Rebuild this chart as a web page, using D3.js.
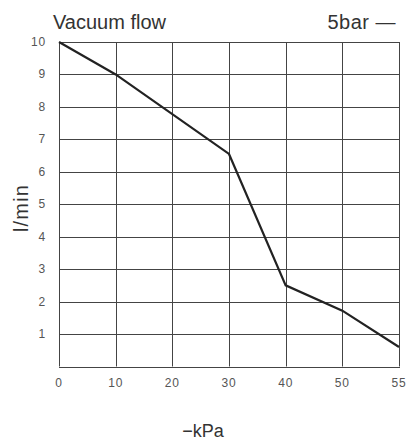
<!DOCTYPE html>
<html>
<head>
<meta charset="utf-8">
<script src="https://cdn.jsdelivr.net/npm/d3@7/dist/d3.min.js"></script>
<style>
  body { margin: 0; background: #fff; }
  text { font-family: "Liberation Sans", Arial, sans-serif; }
</style>
</head>
<body>
<div id="container"></div>
<script>
const xTicks = [0, 10, 20, 30, 40, 50, 55];
const yTicks = [1, 2, 3, 4, 5, 6, 7, 8, 9, 10];
const kPa    = [0, 10, 30, 40, 50, 55];
const flow   = [10, 9, 6.55, 2.5, 1.72, 0.6];

const width  = 409;
const height = 441;
const margin = { top: 42, right: 10, bottom: 74, left: 59 };
const plotW  = 340;

const svg = d3.select("#container")
  .append("svg")
    .attr("width", width)
    .attr("height", height);

// equal-width columns, last one covers only 50..55
const x = d3.scaleLinear()
  .domain(xTicks)
  .range(xTicks.map((d, i) => margin.left + i * plotW / (xTicks.length - 1)));

const y = d3.scaleLinear()
  .domain([0, 10])
  .range([height - margin.bottom - 0.5, margin.top]);

// grid
svg.append("g")
  .selectAll("line.h")
  .data(yTicks)
  .join("line")
    .attr("x1", x(0)).attr("x2", x(55))
    .attr("y1", d => Math.round(y(d)) + 0.5)
    .attr("y2", d => Math.round(y(d)) + 0.5)
    .attr("stroke", "#444")
    .attr("stroke-width", 1);

svg.append("g")
  .selectAll("line.v")
  .data(xTicks)
  .join("line")
    .attr("x1", d => Math.round(x(d)) + 0.5)
    .attr("x2", d => Math.round(x(d)) + 0.5)
    .attr("y1", y(10)).attr("y2", y(0))
    .attr("stroke", "#444")
    .attr("stroke-width", 1);

svg.append("line")
  .attr("x1", x(0)).attr("x2", x(55) + 1)
  .attr("y1", Math.round(y(0)) + 0.5).attr("y2", Math.round(y(0)) + 0.5)
  .attr("stroke", "#444");

// tick labels
svg.append("g")
  .selectAll("text")
  .data(xTicks)
  .join("text")
    .attr("x", d => x(d))
    .attr("y", 387)
    .attr("text-anchor", "middle")
    .attr("font-size", 12)
    .attr("letter-spacing", 0.8)
    .attr("fill", "#555")
    .text(d => d);

svg.append("g")
  .selectAll("text")
  .data(yTicks)
  .join("text")
    .attr("x", 46)
    .attr("y", d => y(d) + 4)
    .attr("text-anchor", "end")
    .attr("font-size", 12)
    .attr("letter-spacing", 0.8)
    .attr("fill", "#555")
    .text(d => d);

// curve
svg.append("path")
  .datum(kPa.map((k, i) => [k, flow[i]]))
  .attr("fill", "none")
  .attr("stroke", "#222")
  .attr("stroke-width", 2.2)
  .attr("d", d3.line().x(d => x(d[0])).y(d => y(d[1])));

// titles
svg.append("text")
  .attr("x", 53).attr("y", 29)
  .attr("font-size", 20)
  .attr("fill", "#333")
  .text("Vacuum flow");

svg.append("text")
  .attr("x", 396).attr("y", 29)
  .attr("text-anchor", "end")
  .attr("font-size", 20)
  .attr("letter-spacing", 0.5)
  .attr("fill", "#333")
  .text("5bar —");

svg.append("text")
  .attr("transform", "translate(28,208) rotate(-90)")
  .attr("text-anchor", "middle")
  .attr("font-size", 20)
  .attr("letter-spacing", 1.2)
  .attr("fill", "#333")
  .text("l/min");

svg.append("text")
  .attr("x", 203).attr("y", 437)
  .attr("text-anchor", "middle")
  .attr("font-size", 18)
  .attr("fill", "#333")
  .text("−kPa");
</script>
</body>
</html>
